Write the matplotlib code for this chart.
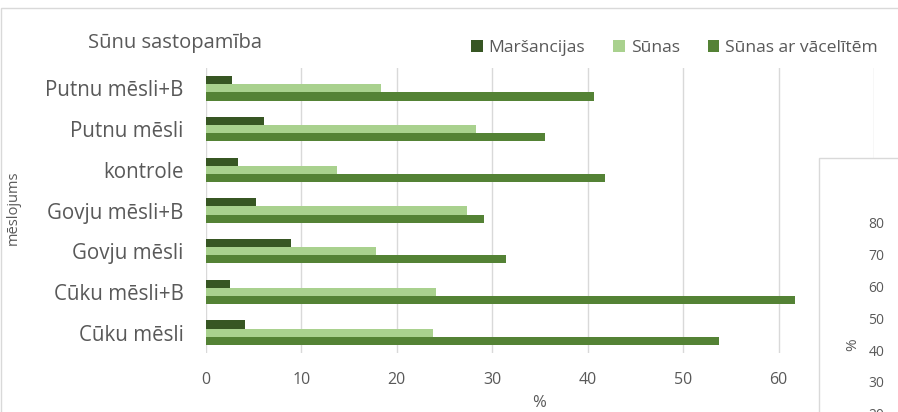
import matplotlib.pyplot as plt
from matplotlib.patches import Rectangle
import numpy as np

categories = ["Cūku mēsli", "Cūku mēsli+B", "Govju mēsli", "Govju mēsli+B",
              "kontrole", "Putnu mēsli", "Putnu mēsli+B"]
marsancijas = [4.1, 2.5, 8.9, 5.2, 3.4, 6.1, 2.7]
sunas = [23.8, 24.1, 17.8, 27.4, 13.7, 28.3, 18.3]
sunas_vacelites = [53.8, 61.7, 31.4, 29.1, 41.8, 35.5, 40.7]

series_names = ["Maršancijas", "Sūnas", "Sūnas ar vācelītēm"]
series_colors = ["#375623", "#A9D18E", "#548235"]

inner_ticks = [20, 30, 40, 50, 60, 70, 80]

text_color = "#595959"
grid_color = "#D9D9D9"
plt.rcParams['font.family'] = ['Open Sans', 'DejaVu Sans']

W, H = 898, 412
fig = plt.figure(figsize=(W / 100, H / 100), dpi=100)


def fx(px):
    return px / W


def fy(py):
    return 1 - py / H


# outer chart frame
fig.patches.append(Rectangle((fx(1), fy(H + 20)), 1.2, fy(8) - fy(H + 20),
                             transform=fig.transFigure, facecolor="none",
                             edgecolor=grid_color, linewidth=1, zorder=0))

ax = fig.add_axes([fx(206), fy(353), fx(874) - fx(206), fy(68) - fy(353)])
y = np.arange(len(categories))
h = 0.2
ax.barh(y + h, marsancijas, height=h, color=series_colors[0], label=series_names[0], zorder=3)
ax.barh(y, sunas, height=h, color=series_colors[1], label=series_names[1], zorder=3)
ax.barh(y - h, sunas_vacelites, height=h, color=series_colors[2], label=series_names[2], zorder=3)

ax.set_xlim(0, 70)
ax.set_ylim(-0.5, len(categories) - 0.5)
ax.set_xticks(np.arange(0, 61, 10))
ax.set_yticks(y)
ax.set_yticklabels(categories)
ax.xaxis.grid(True, color=grid_color, linewidth=1)
ax.axvline(70, color=grid_color, linewidth=1, zorder=1)
for s in ax.spines.values():
    s.set_visible(False)
ax.tick_params(length=0, colors=text_color)
ax.tick_params(axis="y", labelsize=14.8, pad=16)
ax.tick_params(axis="x", labelsize=11.5, pad=14)
ax.set_xlabel("%", color=text_color, fontsize=12)
ax.xaxis.set_label_coords(fx(539), fy(403), transform=fig.transFigure)
ax.xaxis.label.set_va("center")
ax.patch.set_alpha(0)

fig.text(fx(13), fy(208), "mēslojums", rotation=90, color=text_color, fontsize=10.5,
         ha="center", va="center")

fig.text(fx(88), fy(43), "Sūnu sastopamība", fontsize=14.5, color=text_color,
         ha="left", va="center")

leg = fig.legend(loc="center right", bbox_to_anchor=(fx(885), fy(48)), ncol=3,
                 frameon=False, fontsize=12.6, handlelength=0.65, handleheight=0.65,
                 handletextpad=0.35, columnspacing=1.6, labelcolor=text_color,
                 borderaxespad=0)

# overlapping neighbour chart
fig.patches.append(Rectangle((fx(819), fy(H + 20)), 1, fy(158) - fy(H + 20),
                             transform=fig.transFigure, facecolor="white",
                             edgecolor=grid_color, linewidth=1, zorder=5))
ax2 = fig.add_axes([fx(890), fy(430), 0.05, fy(191) - fy(430)], zorder=6)
ax2.set_ylim(14.9, 90)
ax2.set_yticks(inner_ticks)
ax2.set_xticks([])
for s in ax2.spines.values():
    s.set_visible(False)
ax2.patch.set_alpha(0)
ax2.tick_params(length=0, colors=text_color, labelsize=10, pad=4)
fig.text(fx(853), fy(345), "%", rotation=90, color=text_color, fontsize=11,
         ha="center", va="center", zorder=7)

fig.savefig("out.png", dpi=100)
